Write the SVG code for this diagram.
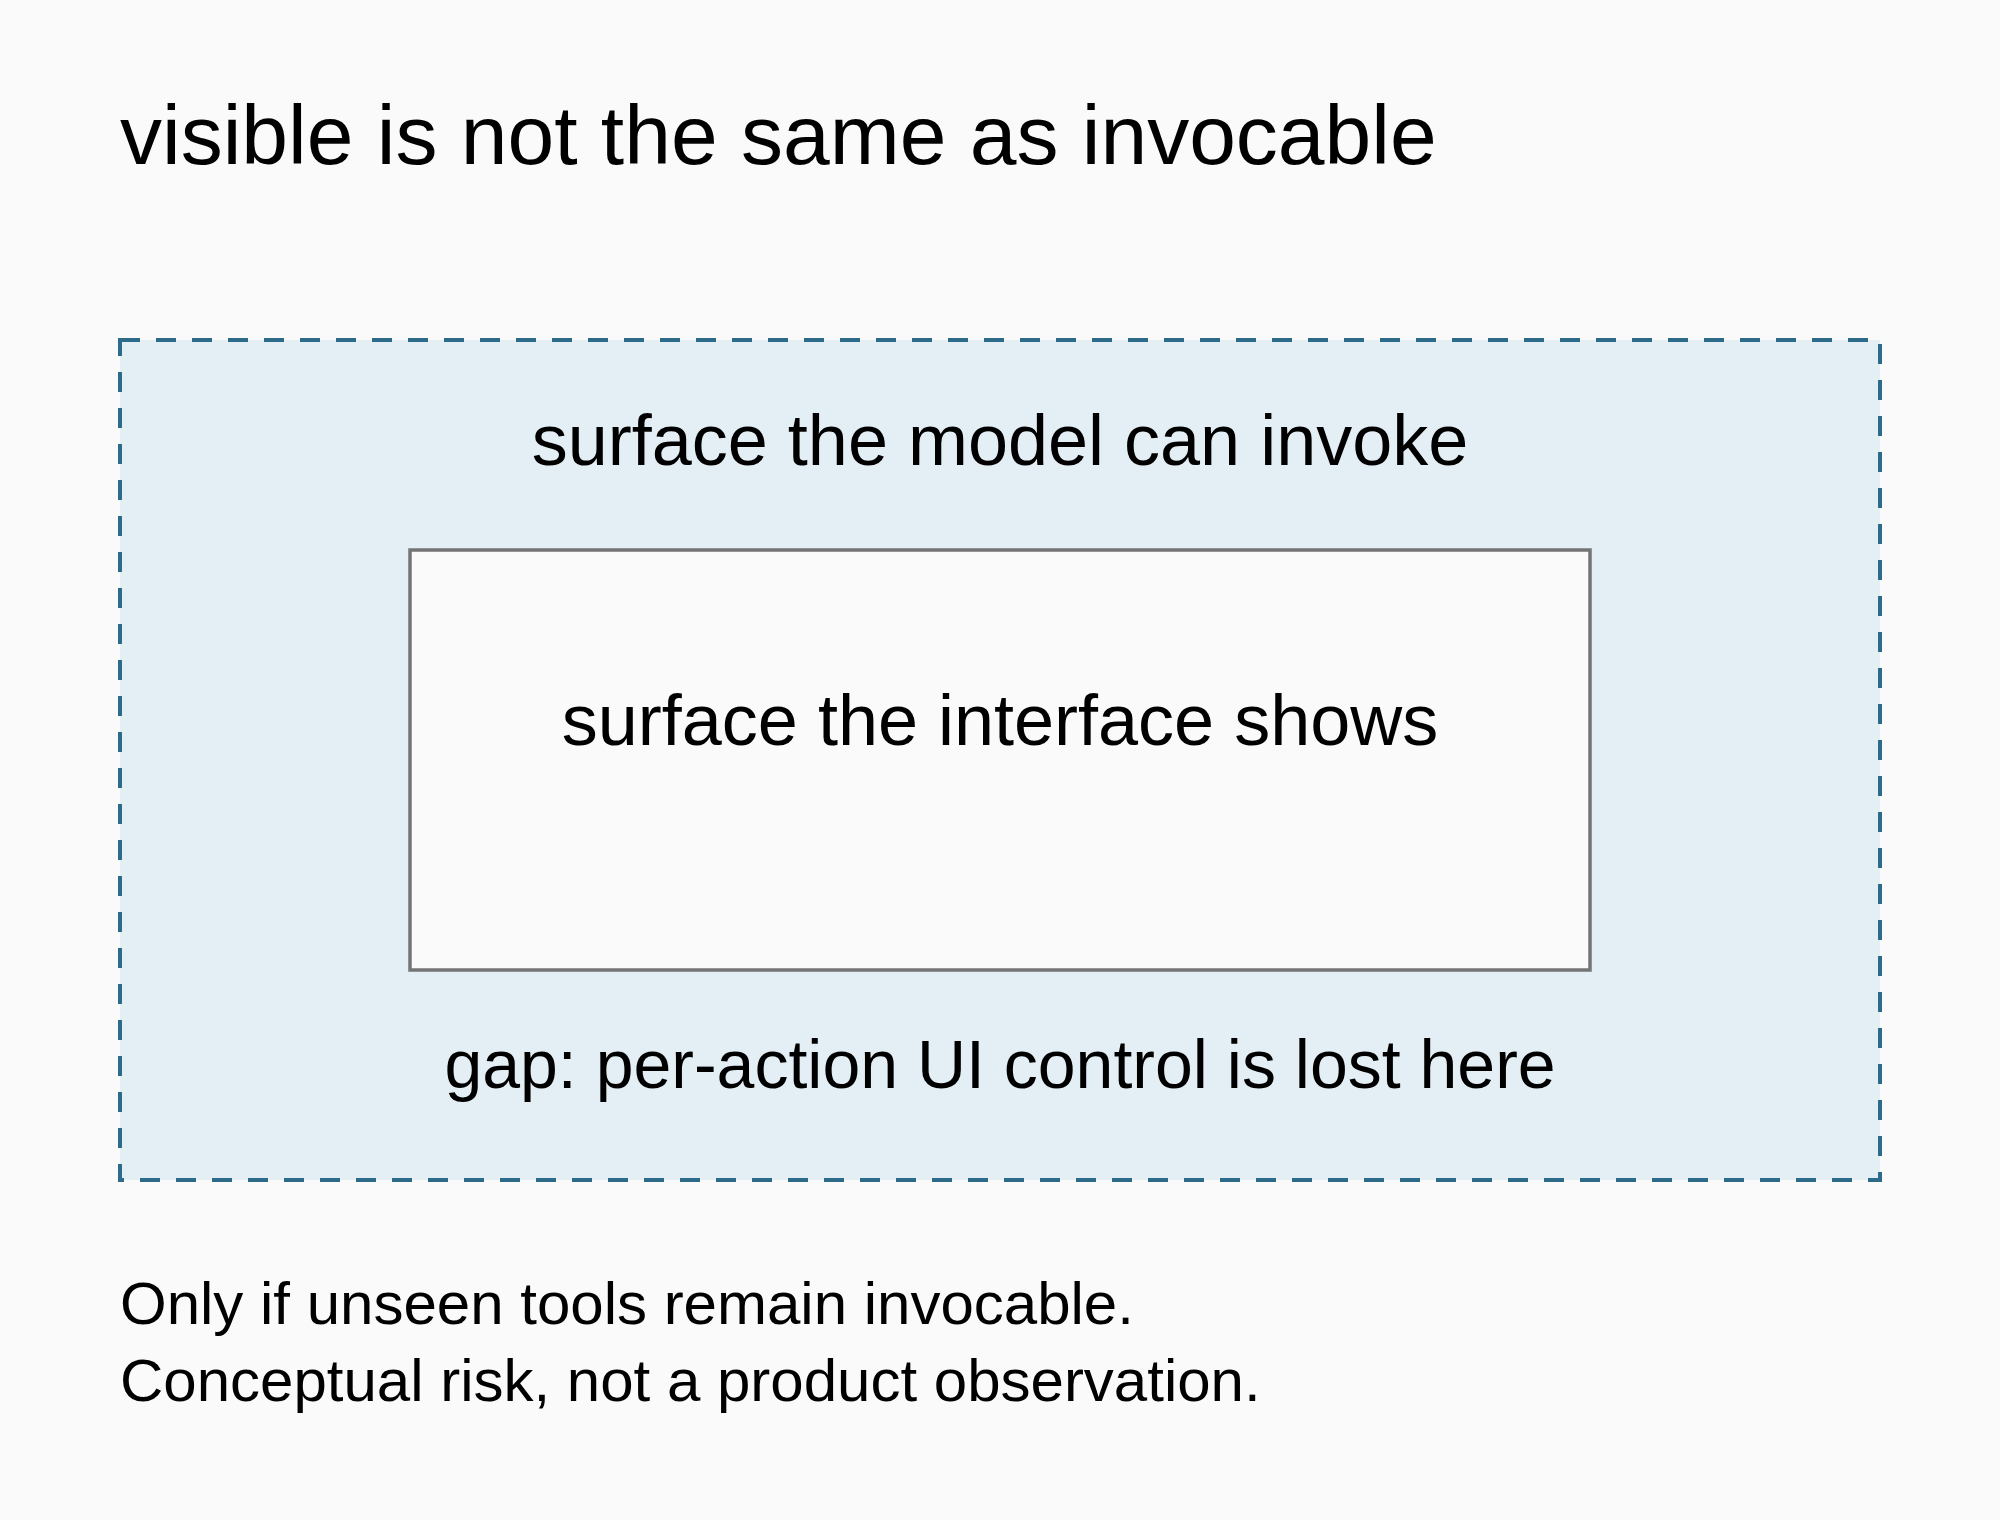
<svg xmlns="http://www.w3.org/2000/svg" width="2000" height="1520" viewBox="0 0 2000 1520">
<style>
  text { font-family: "Liberation Sans", Arial, sans-serif; fill: #000; }
  .title { font-size: 84px; }
  .label { font-size: 72px; text-anchor: middle; }
  .gap { font-size: 68px; text-anchor: middle; }
  .note { font-size: 60px; }
  .outer { fill: #e4eff5; stroke: #2e6b8a; stroke-width: 4; stroke-dasharray: 20 16; }
  .inner { fill: #fafafa; stroke: #747474; stroke-width: 3.5; }
</style>
<rect x="0" y="0" width="2000" height="1520" fill="#fafafa"/>
<text class="title" x="120" y="164">visible is not the same as invocable</text>
<g id="model-surface">
  <rect class="outer" x="120" y="340" width="1760" height="840"/>
  <text class="label" x="1000" y="465">surface the model can invoke</text>
  <text class="gap" x="1000" y="1088">gap: per-action UI control is lost here</text>
</g>
<g id="interface-surface">
  <rect class="inner" x="410" y="550" width="1180" height="420"/>
  <text class="label" x="1000" y="745">surface the interface shows</text>
</g>
<g id="connectors"></g>
<g id="note">
  <text class="note" x="120" y="1324">Only if unseen tools remain invocable.</text>
  <text class="note" x="120" y="1401">Conceptual risk, not a product observation.</text>
</g>
</svg>
